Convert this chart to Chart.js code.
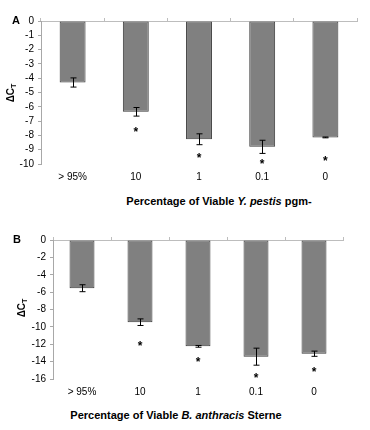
<!DOCTYPE html>
<html>
<head>
<meta charset="utf-8">
<script src="https://cdn.jsdelivr.net/npm/chart.js@4"></script>
<style>
  body { margin: 0; background: #fff; font-family: "Liberation Sans", Arial, sans-serif; }
  #page { position: relative; width: 370px; height: 430px; }
  .panel { position: absolute; left: 0; width: 370px; height: 190px; }
  .letter { position: absolute; font-weight: bold; font-size: 11px; line-height: 11px; }
  .xtitle { position: absolute; text-align: center; font-weight: bold; font-size: 11px; line-height: 12px; white-space: nowrap; }
  .ytitle { position: absolute; font-weight: bold; font-size: 10px; line-height: 12px; white-space: nowrap;
            transform: translate(-50%, -50%) rotate(-90deg); }
  .ytitle sub { font-size: 7px; vertical-align: -2px; }
</style>
</head>
<body>
<div id="page">
  <div class="panel" style="top:0"><canvas id="chartA" width="370" height="190"></canvas></div>
  <div class="panel" style="top:215px"><canvas id="chartB" width="370" height="190"></canvas></div>

  <div class="letter" style="left:12px; top:15px">A</div>
  <div class="letter" style="left:13px; top:234px">B</div>
  <div class="ytitle" style="left:12px; top:93px">ΔC<sub>T</sub></div>
  <div class="ytitle" style="left:23px; top:308px">ΔC<sub>T</sub></div>
  <div class="xtitle" style="left:76px; width:286px; top:195px">Percentage of Viable <i>Y. pestis</i> pgm-</div>
  <div class="xtitle" style="left:0; width:352px; top:409px">Percentage of Viable <i>B. anthracis</i> Sterne</div>
</div>

<script>
// categories shared by both panels
const categories = ['> 95%', '10', '1', '0.1', '0'];

// panel A - Y. pestis pgm-
const valuesA = [-4.3, -6.35, -8.27, -8.8, -8.14];
const errorsA = [0.32, 0.3, 0.38, 0.46, 0.03];
const starsA = [null, -7.6, -9.4, -9.85, -9.6];

// panel B - B. anthracis Sterne
const valuesB = [-5.55, -9.46, -12.24, -13.43, -13.09];
const errorsB = [0.4, 0.38, 0.1, 0.98, 0.3];
const starsB = [null, -11.9, -13.8, -15.6, -14.9];

const axisFont = { family: '"Liberation Sans", Arial, sans-serif', size: 10 };

// error bars and significance stars
const errorBarPlugin = {
    id: 'errorBars',
    afterDatasetsDraw(chart, args, opts) {
        const ctx = chart.ctx;
        const y = chart.scales.y;
        const meta = chart.getDatasetMeta(0);
        const vals = chart.data.datasets[0].data;
        ctx.save();
        ctx.strokeStyle = '#000';
        ctx.lineWidth = 1;
        meta.data.forEach((bar, i) => {
            const x = Math.round(bar.x) + 0.5;
            const top = y.getPixelForValue(vals[i] + opts.errors[i]);
            const bottom = y.getPixelForValue(vals[i] - opts.errors[i]);
            ctx.beginPath();
            ctx.moveTo(x, top);
            ctx.lineTo(x, bottom);
            ctx.moveTo(x - 3, top);
            ctx.lineTo(x + 3, top);
            ctx.moveTo(x - 3, bottom);
            ctx.lineTo(x + 3, bottom);
            ctx.stroke();
            if (opts.stars[i] !== null) {
                ctx.fillStyle = '#000';
                ctx.font = 'bold 12px "Liberation Sans", Arial, sans-serif';
                ctx.textAlign = 'center';
                ctx.textBaseline = 'middle';
                ctx.fillText('*', bar.x, y.getPixelForValue(opts.stars[i]) + 3);
            }
        });
        ctx.restore();
    }
};

function makeChart(id, values, errors, stars, yMin, yStep, geom) {
    const ctx = document.getElementById(id).getContext('2d');
    return new Chart(ctx, {
        type: 'bar',
        data: {
            labels: categories,
            datasets: [{
                data: values,
                backgroundColor: '#808080',
                borderColor: '#3a3a3a',
                borderWidth: 1,
                borderSkipped: false,
                barPercentage: geom.barPct,
                categoryPercentage: 1
            }]
        },
        options: {
            responsive: false,
            animation: false,
            layout: {
                autoPadding: false,
                padding: { left: 0, top: geom.top - 3, right: geom.right, bottom: 0 }
            },
            plugins: {
                legend: { display: false },
                tooltip: { enabled: false },
                errorBars: { errors: errors, stars: stars }
            },
            scales: {
                x: {
                    position: 'bottom',
                    grid: { display: false, drawTicks: false },
                    border: { display: false },
                    ticks: { font: axisFont, color: '#000', padding: 7 },
                    afterFit: s => { s.height = 26; }
                },
                x2: {
                    type: 'category',
                    position: 'top',
                    labels: categories,
                    offset: true,
                    ticks: { display: false },
                    grid: { offset: true, drawOnChartArea: false, tickLength: 3, color: '#bdbdbd' },
                    border: { color: '#bdbdbd' },
                    afterFit: s => { s.height = 3; }
                },
                y: {
                    min: yMin,
                    max: 0,
                    ticks: { stepSize: yStep, autoSkip: false, maxTicksLimit: 20,
                             font: axisFont, color: '#000', padding: geom.tickPad },
                    grid: { drawOnChartArea: false, tickLength: 3, color: '#a8a8a8' },
                    border: { color: '#a8a8a8' },
                    afterFit: s => { s.width = geom.left; }
                }
            }
        },
        plugins: [errorBarPlugin]
    });
}

makeChart('chartA', valuesA, errorsA, starsA, -10, 1,
    { left: 41, top: 21, right: 13, tickPad: 4, barPct: 0.41 });
makeChart('chartB', valuesB, errorsB, starsB, -16, 2,
    { left: 53, top: 25, right: 27, tickPad: 4, barPct: 0.43 });
</script>
</body>
</html>
